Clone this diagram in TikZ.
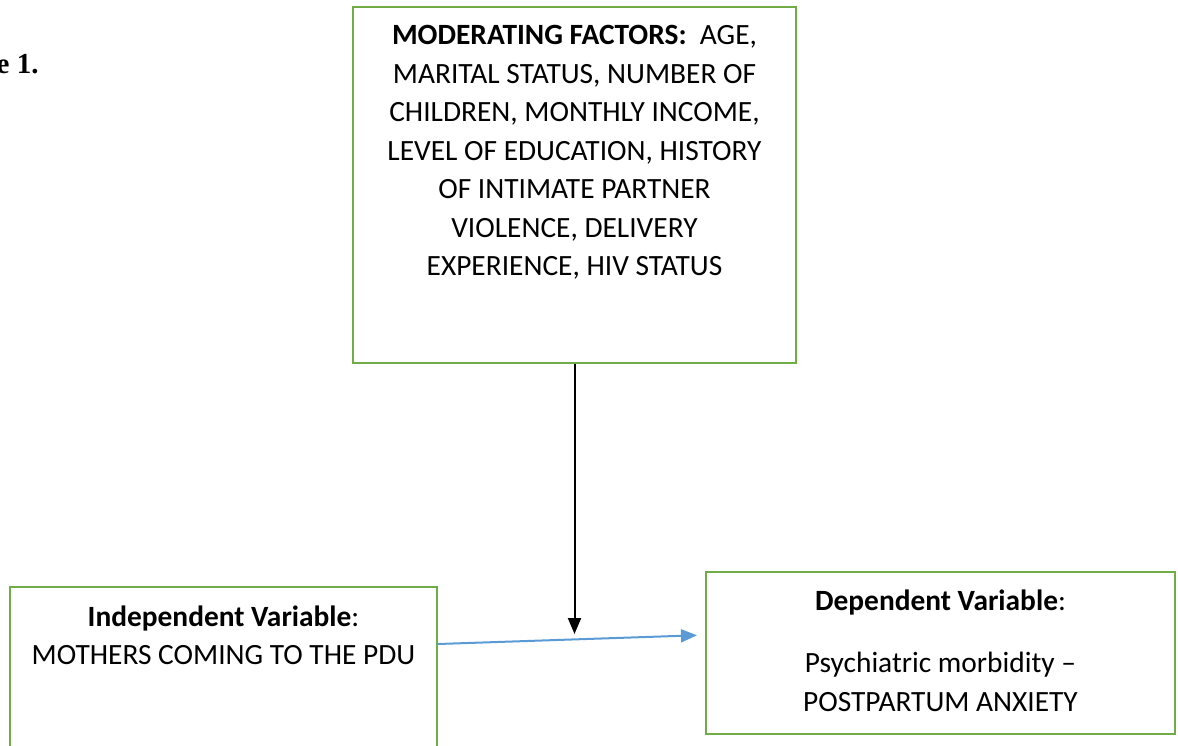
\documentclass[tikz,border=0pt]{standalone}
\usepackage{fontspec}
\setmainfont{Carlito}
\newfontfamily\serifbold{Liberation Serif}
\usetikzlibrary{arrows.meta}
\definecolor{boxgreen}{HTML}{70AD47}
\definecolor{arrowblue}{HTML}{5B9BD5}
\begin{document}
\begin{tikzpicture}[x=0.5pt,y=-0.5pt,
  box/.style={draw=boxgreen,line width=1pt,inner sep=0pt,rectangle},
  txt/.style={font=\fontsize{14.7}{19.25}\selectfont,align=center,inner sep=0pt},
  blackarrow/.style={draw=black,line width=1pt,-{Triangle[length=8pt,width=6.5pt]}},
  bluearrow/.style={draw=arrowblue,line width=1pt,-{Triangle[length=8pt,width=6.5pt]}}]
\useasboundingbox (0,0) rectangle (1178,745);
% boxes
\node[box,minimum width=221.5pt,minimum height=178pt] (mod) at (574.5,185) {};
\node[box,minimum width=213.5pt,minimum height=106.5pt] (indep) at (223.5,693.5) {};
\node[box,minimum width=234.5pt,minimum height=81pt] (dep) at (940.5,653) {};
% texts
\node[anchor=base east,inner sep=0pt,font=\serifbold\bfseries\fontsize{14.5}{16}\selectfont] (fig) at (39,73) {e 1.};
\node[txt] (modtext) at (574.5,152.5) {\textbf{MODERATING FACTORS:}\ \ AGE,\\ MARITAL STATUS, NUMBER OF\\ CHILDREN, MONTHLY INCOME,\\ LEVEL OF EDUCATION, HISTORY\\ OF INTIMATE PARTNER\\ VIOLENCE, DELIVERY\\ EXPERIENCE, HIV STATUS};
\node[txt] (indeptext) at (223.5,635.5) {\textbf{Independent Variable}:\\ MOTHERS COMING TO THE PDU};
\node[txt] (dephead) at (940.5,602) {\textbf{Dependent Variable}:};
\node[txt] (deptext) at (940.5,682) {Psychiatric morbidity --\\ POSTPARTUM ANXIETY};
% connectors
\coordinate (meet) at (574.5,634);
\draw[blackarrow] (mod.south) -- (meet);
\draw[bluearrow,shorten >=4pt] (indep.east |- 0,644) -- (dep.west |- 0,635);
\end{tikzpicture}
\end{document}
